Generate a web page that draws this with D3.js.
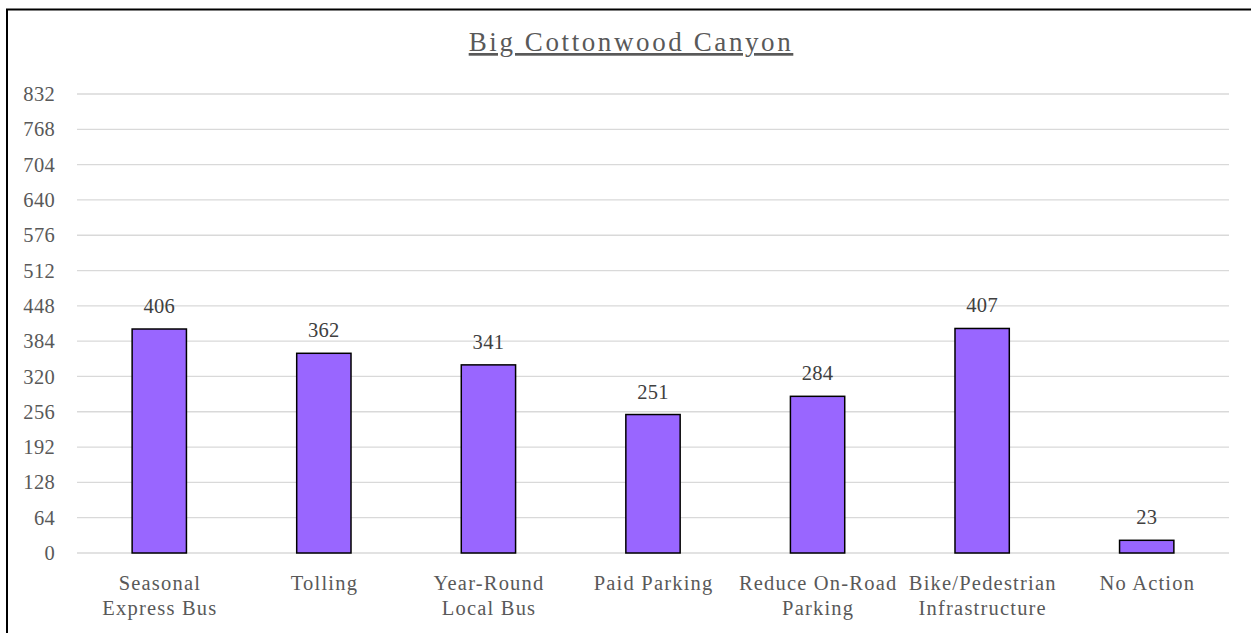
<!DOCTYPE html>
<html><head><meta charset="utf-8">
<script src="https://cdn.jsdelivr.net/npm/d3@7"></script>
<style>body{margin:0;background:#fff;}svg{display:block;}</style>
</head><body>
<script>
const categories = [["Seasonal","Express Bus"],["Tolling"],["Year-Round","Local Bus"],["Paid Parking"],["Reduce On-Road","Parking"],["Bike/Pedestrian","Infrastructure"],["No Action"]];
const values = [406, 362, 341, 251, 284, 407, 23];
const yTicks = [0,64,128,192,256,320,384,448,512,576,640,704,768,832];
const title = "Big Cottonwood Canyon";

(function(){
const W = 1251, H = 633;
const svg = d3.select("body").append("svg").attr("width", W).attr("height", H);
svg.append("rect").attr("x",0).attr("y",0).attr("width",W).attr("height",H).attr("fill","#fff");
svg.append("path").attr("d",`M7,${H+5} L7,9.5 L${W+5},9.5`).attr("fill","none").attr("stroke","#000").attr("stroke-width",2);

const pL = 77, pR = 1229, pT = 94, pB = 553;
const x = d3.scaleBand().domain(d3.range(categories.length)).range([pL, pR]).paddingInner(0.67).paddingOuter(0.335);
const y = d3.scaleLinear().domain([0, 832]).range([pB, pT]);

const font = "'Liberation Serif','Times New Roman',serif";
svg.append("g").selectAll("line").data(yTicks).join("line")
  .attr("x1", pL).attr("x2", pR)
  .attr("y1", d=>y(d)).attr("y2", d=>y(d))
  .attr("stroke","#d9d9d9").attr("stroke-width",1.3);

const yAxis = d3.axisLeft(y).tickValues(yTicks).tickSize(0).tickPadding(0);
const ga = svg.append("g").attr("transform",`translate(55,0)`).call(yAxis);
ga.select(".domain").remove();
ga.selectAll("text").attr("font-family",font).attr("font-size",20.5).attr("letter-spacing",0.3).attr("fill","#595959");

svg.append("g").selectAll("rect").data(values).join("rect")
  .attr("x",(d,i)=>x(i)).attr("width",x.bandwidth())
  .attr("y",d=>y(d)).attr("height",d=>y(0)-y(d))
  .attr("fill","#9966ff").attr("stroke","#000").attr("stroke-width",1.5);

svg.append("g").selectAll("text").data(values).join("text")
  .attr("x",(d,i)=>x(i)+x.bandwidth()/2).attr("y",d=>y(d)-16)
  .attr("text-anchor","middle").attr("font-family",font).attr("font-size",20.5).attr("letter-spacing",0.3).attr("fill","#404040")
  .text(d=>d);

const xl = svg.append("g").selectAll("text").data(categories).join("text")
  .attr("x",(d,i)=>x(i)+x.bandwidth()/2 + 0.6).attr("y",590)
  .attr("text-anchor","middle").attr("font-family",font).attr("font-size",20.5).attr("letter-spacing",1.2).attr("fill","#595959");
xl.each(function(d){
  const t = d3.select(this);
  d.forEach((line,k)=>t.append("tspan").attr("x",t.attr("x")).attr("dy",k===0?0:25).text(line));
});

svg.append("text").attr("x",631).attr("y",51).attr("text-anchor","middle")
  .attr("font-family",font).attr("font-size",27).attr("letter-spacing",2.6).attr("fill","#595959")
  .attr("text-decoration","underline").text(title);
})();
</script>
</body></html>
